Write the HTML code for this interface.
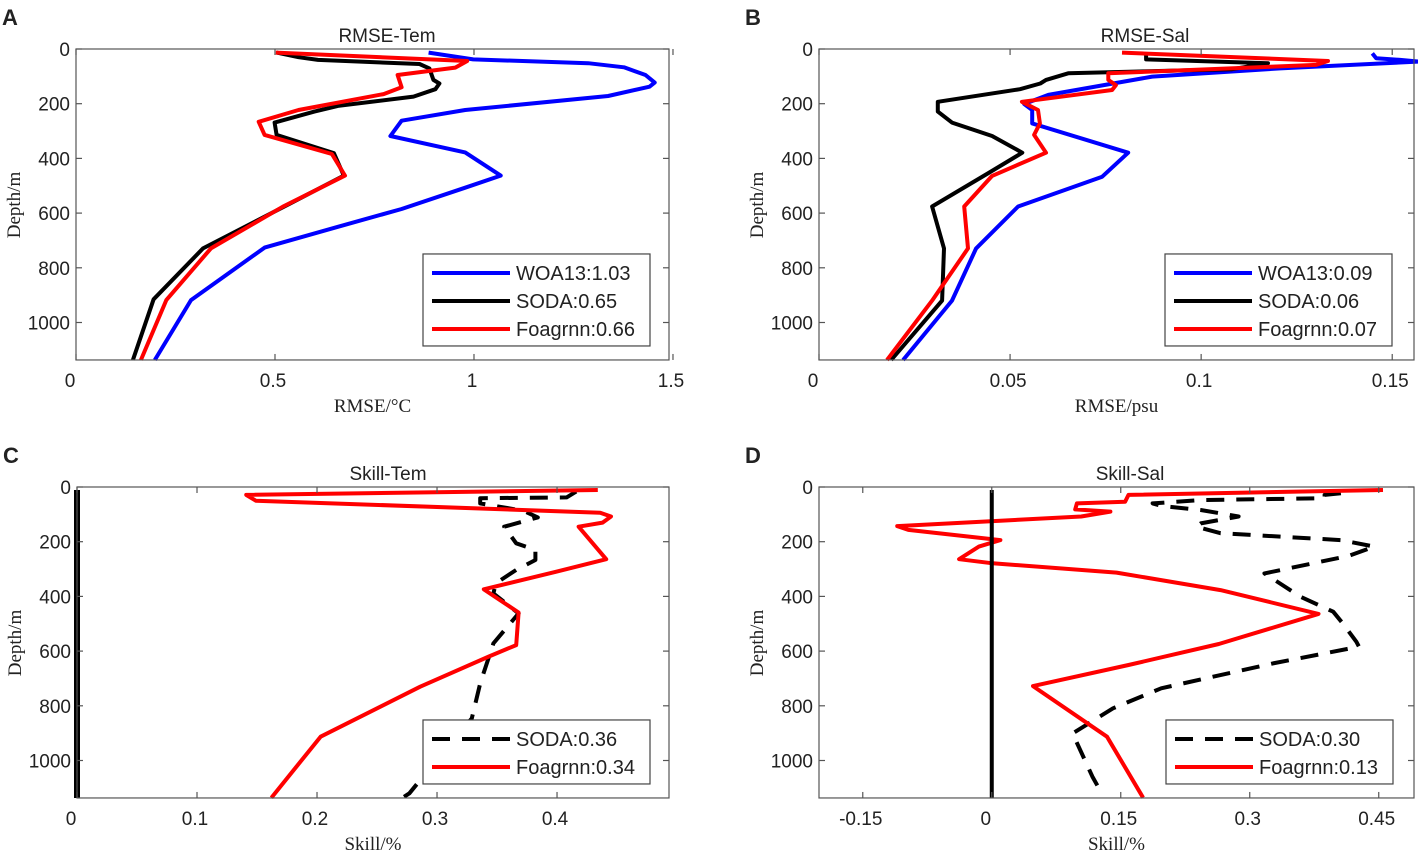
<!DOCTYPE html>
<html><head><meta charset="utf-8"><style>
body{margin:0;background:#fff}
svg text{font-family:"Liberation Sans",sans-serif;fill:#222}
.serif{font-family:"Liberation Serif",serif}
</style></head><body>
<svg id="fig" width="1418" height="852" xmlns="http://www.w3.org/2000/svg"></svg>
<script>
// ---- data (value, depth) ----
const A_woa_x=[0.886,0.998,1.287,1.377,1.431,1.454,1.441,1.337,0.978,0.818,0.790,0.978,1.067,0.978,0.818,0.658,0.474,0.289,0.198];
const A_woa_d=[13,38,52,67,95,123,138,172,223,262,318,378,463,507,585,650,726,918,1137];
const A_soda_x=[0.504,0.559,0.608,0.863,0.888,0.898,0.913,0.903,0.848,0.658,0.599,0.499,0.504,0.648,0.673,0.539,0.319,0.195,0.143];
const A_soda_d=[13,30,40,55,71,113,126,147,174,208,229,269,314,381,463,564,729,915,1137];
const A_foa_x=[0.502,0.983,0.953,0.808,0.818,0.773,0.559,0.459,0.474,0.643,0.676,0.519,0.339,0.227,0.163];
const A_foa_d=[13,44,68,95,140,165,223,266,314,384,463,577,729,918,1137];
const B_woa_x=[0.1448,0.1458,0.1521,0.157,0.1207,0.0872,0.0600,0.0537,0.0558,0.0558,0.0809,0.0741,0.0521,0.0411,0.0348,0.0220];
const B_woa_d=[16,34,40,46,71,101,168,201,223,272,379,467,576,729,920,1137];
const B_soda_x=[0.0856,0.0856,0.1175,0.1081,0.0652,0.0594,0.0579,0.0526,0.0311,0.0311,0.0348,0.0453,0.0532,0.0442,0.0296,0.0327,0.0322,0.0189];
const B_soda_d=[13,38,52,74,89,113,126,147,193,229,269,318,379,455,576,729,920,1137];
const B_foa_x=[0.0793,0.1332,0.1301,0.0757,0.0757,0.0777,0.0767,0.0531,0.0573,0.0578,0.0563,0.0594,0.0453,0.0380,0.0390,0.0296,0.0178];
const B_foa_d=[13,44,58,89,113,132,150,193,223,272,314,379,464,576,729,920,1137];
const C_soda_x=[0.416,0.408,0.336,0.336,0.372,0.384,0.356,0.366,0.382,0.382,0.366,0.349,0.347,0.368,0.347,0.336,0.329,0.303,0.277,0.271];
const C_soda_d=[17,38,41,60,87,111,145,206,230,267,303,352,389,462,572,718,846,980,1120,1137];
const C_foa_x=[0.434,0.141,0.149,0.436,0.445,0.438,0.418,0.441,0.399,0.339,0.368,0.366,0.343,0.286,0.203,0.162];
const C_foa_d=[11,29,50,94,108,130,145,264,310,374,459,578,620,730,913,1136];
const D_soda_x=[0.406,0.387,0.387,0.243,0.187,0.197,0.243,0.287,0.243,0.238,0.266,0.406,0.445,0.415,0.317,0.359,0.397,0.408,0.424,0.427,0.327,0.197,0.141,0.094,0.117,0.129];
const D_soda_d=[23,29,41,48,60,69,84,108,133,145,169,194,218,252,316,401,456,498,566,584,645,736,809,901,1059,1126];
const D_foa_x=[0.455,0.159,0.155,0.099,0.097,0.138,0.104,-0.110,-0.097,0.010,-0.015,-0.038,0.001,0.145,0.266,0.380,0.264,0.159,0.048,0.134,0.176];
const D_foa_d=[11,29,54,60,82,90,108,143,157,194,218,264,279,313,377,464,574,651,728,913,1136];
const yTicks=[0,200,400,600,800,1000];
const A_xt=[0,0.5,1,1.5], B_xt=[0,0.05,0.1,0.15], C_xt=[0,0.1,0.2,0.3,0.4], D_xt=[-0.15,0,0.15,0.3,0.45];
const A_leg=["WOA13:1.03","SODA:0.65","Foagrnn:0.66"], B_leg=["WOA13:0.09","SODA:0.06","Foagrnn:0.07"];
const C_leg=["SODA:0.36","Foagrnn:0.34"], D_leg=["SODA:0.30","Foagrnn:0.13"];

const NS="http://www.w3.org/2000/svg", svg=document.getElementById('fig');
function el(t,a,p){const e=document.createElementNS(NS,t);for(const k in a)e.setAttribute(k,a[k]);(p||svg).appendChild(e);return e;}
function txt(s,a,p){const e=el('text',a,p);e.textContent=s;return e;}

function panel(o){
  const g=el('g',{});
  
  
  const sx=v=>o.L+(v-o.x0)/(o.x1-o.x0)*(o.R-o.L);
  const sy=d=>o.T+d*0.2735;
  const B=o.T+1137*0.2735;
  o.series.forEach(s=>{
    const p=el('polyline',{points:s.x.map((v,i)=>sx(v).toFixed(1)+','+sy(s.d[i]).toFixed(1)).join(' '),fill:'none',stroke:s.c,'stroke-width':4,'stroke-linejoin':'round','stroke-dasharray':s.dash||'none'},g);
    
    
  });
  if(o.zero){const z=el('line',{x1:sx(0),x2:sx(0),y1:sy(11),y2:B,stroke:'#000','stroke-width':o.zw},g);
    
    }
  const f=el('rect',{x:o.L,y:o.T,width:o.R-o.L,height:B-o.T,fill:'none',stroke:'#555','stroke-width':1.2},g);
  
  
  yTicks.forEach(t=>{const y=sy(t);
    el('line',{x1:o.L,x2:o.L+6,y1:y,y2:y,stroke:'#555','stroke-width':1.2},g);
    el('line',{x1:o.R,x2:o.R-6,y1:y,y2:y,stroke:'#555','stroke-width':1.2},g);
    const l=txt(String(t),{x:o.L-6,y:y+7,'text-anchor':'end','font-size':19},g);
    
    });
  o.xt.forEach(t=>{const x=sx(t);
    el('line',{x1:x,x2:x,y1:B,y2:B-6,stroke:'#555','stroke-width':1.2},g);
    el('line',{x1:x,x2:x,y1:o.T,y2:o.T+6,stroke:'#555','stroke-width':1.2},g);
    const l=txt(String(t),{x:x-(t===0?6:2),y:B+27,'text-anchor':'middle','font-size':19},g);
    
    });
  const ti=txt(o.title,{x:o.tx,y:o.T-7,'text-anchor':'middle','font-size':19},g);
  
  
  const xl=txt(o.xlab,{x:(o.L+o.R)/2,y:B+52,'text-anchor':'middle','font-size':19,class:'serif'},g);
  
  
  const yl=txt('Depth/m',{x:0,y:0,'text-anchor':'middle','font-size':19,class:'serif',transform:`translate(${o.L-56},${o.T+156}) rotate(-90)`},g);
  
  
  const lt=txt(o.letter,{x:o.L-74,y:o.T-24,'font-size':22,'font-weight':'bold'},g);
  
  
  const n=o.leg.length, lx=o.lx, ly=B-14-28*n-8;
  const lg=el('g',{},g);
  
  
  el('rect',{x:lx,y:ly,width:227,height:28*n+8,fill:'#fff',stroke:'#444','stroke-width':1.2},lg);
  o.leg.forEach((s,i)=>{const y=ly+19+28*i, se=o.series[o.series.length-n+i];
    el('line',{x1:lx+9,x2:lx+87,y1:y,y2:y,stroke:se.c,'stroke-width':4,'stroke-dasharray':se.dash||'none'},lg);
    const t=txt(s,{x:lx+93,y:y+7,'font-size':20},lg);
    
    });
}
panel({name:'panel-a-rmse-tem',letter:'A',title:'RMSE-Tem',tx:387,lx:423,xlab:'RMSE/°C',L:76,R:669,T:49,x0:0,x1:1.49,xt:A_xt,leg:A_leg,
  series:[{x:A_woa_x,d:A_woa_d,c:'#0000ff',n:'woa13-line'},{x:A_soda_x,d:A_soda_d,c:'#000',n:'soda-line'},{x:A_foa_x,d:A_foa_d,c:'#ff0000',n:'foagrnn-line'}]});
panel({name:'panel-b-rmse-sal',letter:'B',title:'RMSE-Sal',tx:1145,lx:1165,xlab:'RMSE/psu',L:819,R:1414,T:49,x0:0,x1:0.1557,xt:B_xt,leg:B_leg,
  series:[{x:B_woa_x,d:B_woa_d,c:'#0000ff',n:'woa13-line'},{x:B_soda_x,d:B_soda_d,c:'#000',n:'soda-line'},{x:B_foa_x,d:B_foa_d,c:'#ff0000',n:'foagrnn-line'}]});
panel({name:'panel-c-skill-tem',letter:'C',title:'Skill-Tem',tx:388,lx:423,xlab:'Skill/%',L:77,R:669,T:487,x0:0,x1:0.4933,xt:C_xt,leg:C_leg,zero:true,zw:6,
  series:[{x:C_soda_x,d:C_soda_d,c:'#000',dash:'18,12',n:'soda-line'},{x:C_foa_x,d:C_foa_d,c:'#ff0000',n:'foagrnn-line'}]});
panel({name:'panel-d-skill-sal',letter:'D',title:'Skill-Sal',tx:1130,lx:1166,xlab:'Skill/%',L:819,R:1414,T:487,x0:-0.2009,x1:0.4910,xt:D_xt,leg:D_leg,zero:true,zw:4,
  series:[{x:D_soda_x,d:D_soda_d,c:'#000',dash:'18,12',n:'soda-line'},{x:D_foa_x,d:D_foa_d,c:'#ff0000',n:'foagrnn-line'}]});
</script>
</body></html>
